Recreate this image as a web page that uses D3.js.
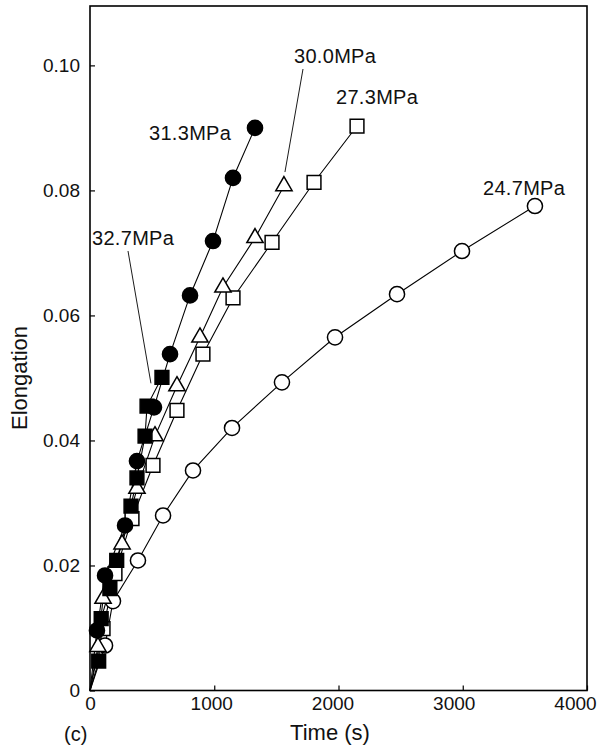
<!DOCTYPE html>
<html lang="en">
<head>
<meta charset="UTF-8">
<title>Elongation vs time</title>
<script src="https://cdn.jsdelivr.net/npm/d3@7"></script>
<style>
    body { margin: 0; background: #fff; }
    text { font-family: "Liberation Sans", Arial, sans-serif; fill: #111; }
</style>
</head>
<body>
<svg id="chart" width="605" height="750"></svg>
<script>
// values: time (s) and elongation for each stress level
const t247 = [0, 121, 185, 386, 588, 829, 1143, 1545, 1972, 2471, 2994, 3581];
const e247 = [0, 0.0072, 0.0143, 0.0208, 0.0280, 0.0352, 0.0420, 0.0493, 0.0565, 0.0634, 0.0703, 0.0775];

const t273 = [0, 105, 201, 338, 507, 700, 909, 1151, 1465, 1803, 2149];
const e273 = [0, 0.0099, 0.0187, 0.0275, 0.0360, 0.0448, 0.0538, 0.0628, 0.0717, 0.0813, 0.0903];

const t300 = [0, 64, 105, 258, 378, 523, 700, 885, 1070, 1328, 1561];
const e300 = [0, 0.0070, 0.0147, 0.0234, 0.0323, 0.0407, 0.0487, 0.0565, 0.0645, 0.0724, 0.0807];

const t313 = [0, 56, 121, 282, 378, 515, 644, 805, 990, 1151, 1328];
const e313 = [0, 0.0096, 0.0184, 0.0264, 0.0367, 0.0453, 0.0538, 0.0632, 0.0719, 0.0820, 0.0900];

const t327 = [0, 70, 90, 160, 215, 330, 378, 443, 459, 579];
const e327 = [0, 0.0047, 0.0115, 0.0163, 0.0208, 0.0295, 0.0340, 0.0407, 0.0455, 0.0501];

const xTicks = [0, 1000, 2000, 3000, 4000];
const yTicks = [0, 0.02, 0.04, 0.06, 0.08, 0.10];
const yTickLabels = ["0", "0.02", "0.04", "0.06", "0.08", "0.10"];

const svg = d3.select("#chart");
const FONT = '"Liberation Sans", Arial, sans-serif';

const x = d3.scaleLinear().domain([0, 4000]).range([90, 587]);
const y = d3.scaleLinear().domain([0, 0.1095]).range([690.5, 6]);

const zip = (ts, es) => ts.map((t, i) => [t, es[i]]);

const series = [
    { name: "24.7MPa", pts: zip(t247, e247), sym: d3.symbolCircle, size: 180, fill: "#fff" },
    { name: "27.3MPa", pts: zip(t273, e273), sym: d3.symbolSquare, size: 190, fill: "#fff" },
    { name: "30.0MPa", pts: zip(t300, e300), sym: d3.symbolTriangle, size: 115, fill: "#fff" },
    { name: "31.3MPa", pts: zip(t313, e313), sym: d3.symbolCircle, size: 180, fill: "#000" },
    { name: "32.7MPa", pts: zip(t327, e327), sym: d3.symbolSquare, size: 190, fill: "#000" }
];

// frame
svg.append("rect")
    .attr("x", x.range()[0]).attr("y", y.range()[1])
    .attr("width", x.range()[1] - x.range()[0])
    .attr("height", y.range()[0] - y.range()[1])
    .attr("fill", "none").attr("stroke", "#000").attr("stroke-width", 1.6);

// ticks point inwards; the printed labels drift a little left of their ticks
svg.append("g")
    .attr("transform", `translate(0,${y.range()[0]})`)
    .call(d3.axisBottom(x).tickValues(xTicks).tickSize(-5).tickPadding(6).tickFormat(d3.format("d")))
    .call(g => g.select(".domain").remove())
    .call(g => g.selectAll("line").attr("stroke-width", 1.2))
    .call(g => g.selectAll("text").attr("font-size", 19).attr("fill", "#111")
        .attr("font-family", FONT)
        .attr("dx", (d, i) => -3 * i));

svg.append("g")
    .attr("transform", `translate(${x.range()[0]},0)`)
    .call(d3.axisLeft(y).tickValues(yTicks).tickSize(-5).tickPadding(10)
        .tickFormat((d, i) => yTickLabels[i]))
    .call(g => g.select(".domain").remove())
    .call(g => g.selectAll("line").attr("stroke-width", 1.2))
    .call(g => g.selectAll("text").attr("font-size", 19).attr("fill", "#111")
        .attr("font-family", FONT));

// axis titles
svg.append("text")
    .attr("x", 330).attr("y", 740)
    .attr("text-anchor", "middle").attr("font-size", 22)
    .text("Time (s)");

svg.append("text")
    .attr("transform", "translate(27,378) rotate(-90)")
    .attr("text-anchor", "middle").attr("font-size", 22)
    .text("Elongation");

svg.append("text")
    .attr("x", 64).attr("y", 741).attr("font-size", 20)
    .text("(c)");

// curves
const line = d3.line().x(d => x(d[0])).y(d => y(d[1]));

svg.append("g").selectAll("path")
    .data(series)
    .join("path")
    .attr("d", s => line(s.pts))
    .attr("fill", "none").attr("stroke", "#000").attr("stroke-width", 1.1);

// markers (the origin carries no marker)
series.forEach(s => {
    svg.append("g").selectAll("path")
        .data(s.pts.filter(d => d[0] > 0))
        .join("path")
        .attr("transform", d => `translate(${x(d[0])},${y(d[1])})`)
        .attr("d", d3.symbol(s.sym, s.size))
        .attr("fill", s.fill).attr("stroke", "#000").attr("stroke-width", 1.5);
});

// labels with leader lines; a leader runs to a point of its curve
const labels = [
    { text: "24.7MPa", lx: 483, ly: 195 },
    { text: "27.3MPa", lx: 336, ly: 104 },
    { text: "30.0MPa", lx: 294, ly: 63, from: [303, 69], series: 2, idx: 10, off: [1, -14] },
    { text: "31.3MPa", lx: 149, ly: 140 },
    { text: "32.7MPa", lx: 92, ly: 245, from: [128, 251], series: 4, idx: 9, off: [-11, 6] }
];

labels.forEach(l => {
    svg.append("text")
        .attr("x", l.lx).attr("y", l.ly)
        .attr("font-size", 20).attr("letter-spacing", 0.3)
        .text(l.text);
    if (l.from) {
        const p = series[l.series].pts[l.idx];
        svg.append("line")
            .attr("x1", l.from[0]).attr("y1", l.from[1])
            .attr("x2", x(p[0]) + l.off[0]).attr("y2", y(p[1]) + l.off[1])
            .attr("stroke", "#000").attr("stroke-width", 0.9);
    }
});
</script>
</body>
</html>
